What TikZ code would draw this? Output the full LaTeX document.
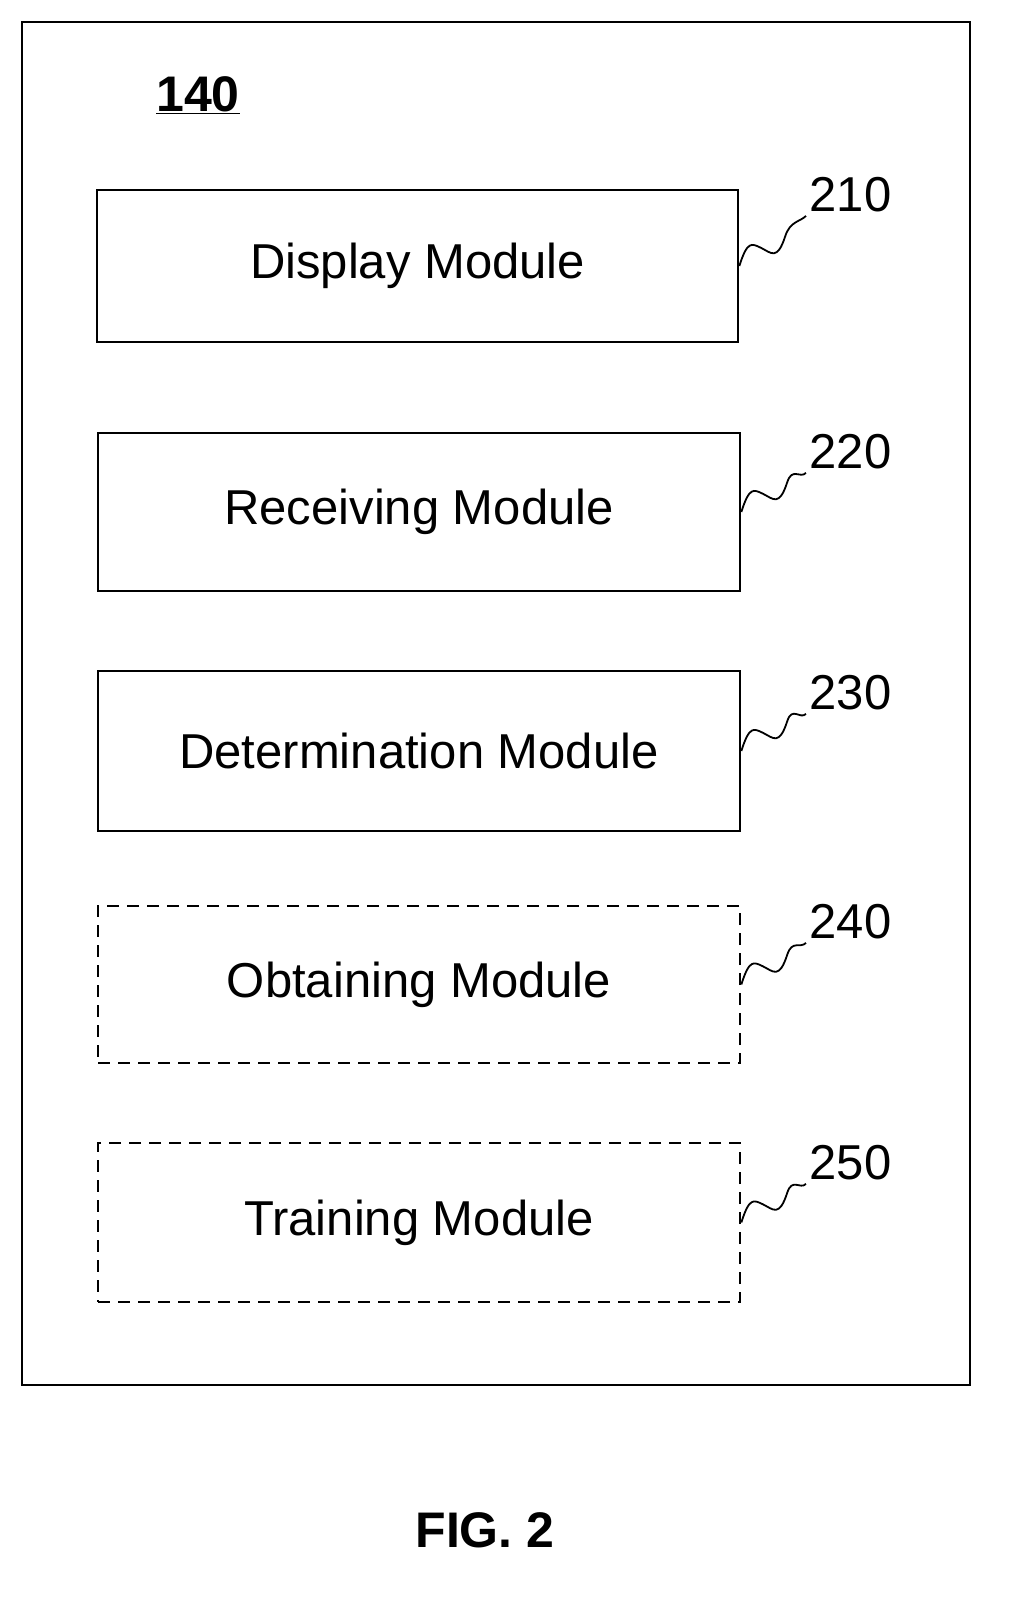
\documentclass[tikz,border=0pt]{standalone}
\usepackage{fontspec}
\setmainfont{Liberation Sans}
\begin{document}
\begin{tikzpicture}[x=1pt,y=-1pt,
  box/.style={draw,line width=2.6pt,inner sep=0pt,font=\fontsize{49}{52}\selectfont},
  opt/.style={box,dash pattern=on 12pt off 8pt},
  lbl/.style={font=\fontsize{49}{52}\selectfont,anchor=west},
  wav/.style={line width=1.8pt}]
\useasboundingbox (0,0) rectangle (1014,1604);
\draw[line width=2.6pt] (22,22) rectangle (970,1385);
\node[font=\bfseries\fontsize{50}{52}\selectfont] (t) at (198,95) {\underline{140}};
\node[box,minimum width=641pt,minimum height=152pt] (m1) at (417.5,266) {Display Module};
\node[box,minimum width=642pt,minimum height=158pt] (m2) at (419,512) {Receiving Module};
\node[box,minimum width=642pt,minimum height=160pt] (m3) at (419,751) {Determination Module};
\node[opt,minimum width=642pt,minimum height=157pt] (m4) at (419,984.5) {Obtaining Module};
\node[opt,minimum width=642pt,minimum height=159pt] (m5) at (419,1222.5) {Training Module};
\foreach \i/\n/\y in {1/210/195,2/220/452,3/230/693,4/240/922,5/250/1163}{
  \node[lbl] (l\i) at (806,\y) {\n};
}
\foreach \i in {1,...,5}{
  \draw[wav] (m\i.east) .. controls +(8,-25) and +(-10,-5) .. ++(22,-18)
     .. controls +(10,5) and +(-8,25) .. ++(24,-12)
     .. controls +(5,-15) and +(-6,6) .. (l\i.south west);
}
\node[font=\bfseries\fontsize{50}{52}\selectfont] (fig) at (485,1530) {FIG. 2};
\end{tikzpicture}
\end{document}
